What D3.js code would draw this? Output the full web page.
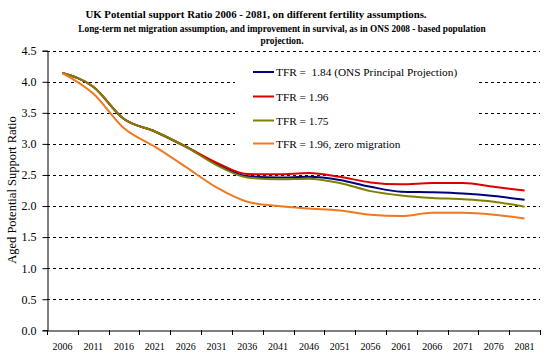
<!DOCTYPE html>
<html><head><meta charset="utf-8">
<script src="https://cdn.jsdelivr.net/npm/d3@7"></script>
<style>body{margin:0;background:#fff}svg{display:block}</style>
</head><body><svg id="c" width="550" height="357" font-family="'Liberation Serif', 'Times New Roman', serif"></svg>
<script>
const years = [2006,2011,2016,2021,2026,2031,2036,2041,2046,2051,2056,2061,2066,2071,2076,2081];
const yTicks = [0,0.5,1,1.5,2,2.5,3,3.5,4,4.5];
const seriesNames = ["TFR =  1.84 (ONS Principal Projection)","TFR = 1.96","TFR = 1.75","TFR = 1.96, zero migration"];
const seriesColors = ["#000080","#dd0000","#808000","#f07820"];
const tfr184 = [4.14,3.92,3.40,3.20,2.955,2.68,2.48,2.46,2.47,2.42,2.31,2.23,2.22,2.20,2.16,2.10];
const tfr196 = [4.14,3.92,3.40,3.20,2.96,2.70,2.515,2.51,2.53,2.47,2.38,2.35,2.37,2.37,2.31,2.25];
const tfr175 = [4.14,3.92,3.40,3.20,2.955,2.66,2.46,2.43,2.44,2.37,2.24,2.17,2.13,2.11,2.07,1.99];
const tfr196zero = [4.14,3.81,3.25,2.955,2.63,2.30,2.07,2.00,1.96,1.93,1.86,1.84,1.89,1.89,1.86,1.80];
const allSeries = [tfr184,tfr196,tfr175,tfr196zero];

const FF = "'Liberation Serif', 'Times New Roman', serif";
const svg = d3.select("#c");
const L=47,R=540,T=50.7,B=330.3;
const x = d3.scaleBand().domain(years).range([L,R]).padding(0);
const y = d3.scaleLinear().domain([0,4.5]).range([B,T]);

// gridlines
svg.append("g").selectAll("line").data(yTicks.filter(d=>d>0)).join("line")
  .attr("x1",L).attr("x2",R).attr("y1",d=>Math.round(y(d))+0.5).attr("y2",d=>Math.round(y(d))+0.5)
  .attr("stroke","#000").attr("stroke-width",1).attr("stroke-dasharray","3,3");

// y axis
const ya = svg.append("g").attr("transform",`translate(${L+0.5},0)`)
  .call(d3.axisLeft(y).tickValues(yTicks).tickFormat(d3.format(".1f")).tickSize(5).tickPadding(6));
ya.attr("font-family",FF);
ya.select(".domain").attr("stroke","#000");
ya.selectAll("text").style("font-family",FF).style("font-size","12px");

// x axis labels
const xa = svg.append("g").attr("transform",`translate(0,${Math.round(B)+0.5})`)
  .call(d3.axisBottom(x).tickSize(0).tickPadding(12));
xa.attr("font-family",FF);
xa.select(".domain").attr("stroke","#000");
xa.selectAll("text").style("font-family",FF).style("font-size","10px");
// x tick marks at band boundaries
const bounds = years.map(d=>x(d)).concat([x(years[years.length-1])+x.bandwidth()]);
svg.append("g").selectAll("line").data(bounds).join("line")
  .attr("x1",d=>Math.round(d)+0.5).attr("x2",d=>Math.round(d)+0.5)
  .attr("y1",Math.round(B)).attr("y2",Math.round(B)+5).attr("stroke","#000");

// lines
const line = d3.line().x((d,i)=>x(years[i])+x.bandwidth()/2).y(d=>y(d)).curve(d3.curveMonotoneX);
[0,1,2,3].forEach(k=>{
  svg.append("path").datum(allSeries[k]).attr("d",line).attr("fill","none")
    .attr("stroke",seriesColors[k]).attr("stroke-width",2);
});

// legend
svg.append("rect").attr("x",235).attr("y",57).attr("width",243).attr("height",98).attr("fill","#fff");
const ly=[72,96.5,120.5,143.5];
seriesNames.forEach((n,k)=>{
  svg.append("line").attr("x1",253).attr("x2",274).attr("y1",ly[k]).attr("y2",ly[k]).attr("stroke",seriesColors[k]).attr("stroke-width",2);
  svg.append("text").attr("x",276).attr("y",ly[k]+4).style("font-family",FF).style("font-size","11.3px").style("white-space","pre").attr("xml:space","preserve").text(n);
});

// titles
svg.append("text").attr("x",256).attr("y",18).attr("text-anchor","middle").style("font-family",FF).style("font-size","10.8px").style("font-weight","bold").text("UK Potential support Ratio 2006 - 2081, on different fertility assumptions.");
svg.append("text").attr("x",282).attr("y",32).attr("text-anchor","middle").style("font-family",FF).style("font-size","9.3px").style("font-weight","bold").text("Long-term net migration assumption, and improvement in survival, as in ONS 2008 - based population");
svg.append("text").attr("x",282).attr("y",44).attr("text-anchor","middle").style("font-family",FF).style("font-size","9.3px").style("font-weight","bold").text("projection.");
svg.append("text").attr("transform","translate(16,190) rotate(-90)").attr("text-anchor","middle").style("font-family",FF).style("font-size","12.5px").text("Aged Potential Support Ratio");
</script></body></html>
